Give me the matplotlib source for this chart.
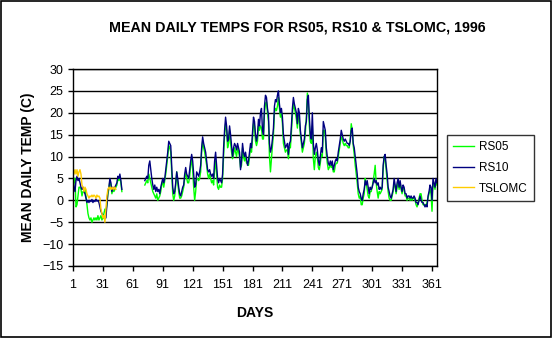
import numpy as np
import matplotlib
matplotlib.use("Agg")
import matplotlib.pyplot as plt
from matplotlib.patches import Rectangle

plt.rcParams['font.family'] = ['Liberation Sans', 'DejaVu Sans']

# mean daily temperatures (C), 1996; no logger data for days 51-72
days = np.arange(1, 367)
gap_days = (51, 72)

rs05_early = [  # days 1-50
    6, 4, 5, -1.5, -1, 1, 3, 3, 2.5, 1,
    2, 2, 2.5, 1, -1, -3, -4, -4.5, -4, -5,
    -4.5, -4, -4.5, -4, -4.5, -3.5, -4.5, -4, -3.5, -4.5,
    -4, -3, -2, -2.5, -1, 1.5, 2.5, 4.5, 3.5, 1.5,
    2.5, 2, 2.5, 3, 3.5, 5, 4.5, 5.5, 4, 2]
rs05_late = [  # days 73-366
    3.5, 4, 4.5, 4, 6, 5, 4, 3, 2, 1.5,
    1, 0.5, 1.5, 0, 0.5, 1, 2, 3.5, 4.5, 3,
    4.5, 6, 8, 10, 12.5, 12, 11, 6, 1.5, 0,
    1, 3.5, 6.5, 4, 2, 0.5, 0.5, 1, 2, 3,
    5, 6.5, 5, 4, 4, 5.5, 8, 9.5, 7, 3,
    0, 2, 5, 5, 4.5, 5, 6.5, 11, 13.5, 12,
    11, 9.5, 8, 6, 5, 6, 5, 4,
    4.5, 3.5, 7, 9, 6, 3, 2.5, 3.5, 3, 3,
    5, 10, 15, 17.5, 16, 12, 13, 16, 13, 11,
    9.5, 10.5, 12, 11, 10, 12, 11, 10, 7.5, 8,
    12, 10, 9, 10, 8.5, 8.5, 8, 10, 12, 11,
    14, 17.5, 17, 13.5, 12.5, 13.5, 17, 16, 17, 16.5,
    14, 14, 20, 22, 22.5, 20, 18, 10, 6.5, 9.5,
    12.5, 15, 20, 21, 20.5, 21.5, 23.5, 21, 19, 20,
    17.5, 13, 12, 11, 11.5, 11.5, 9.5, 12, 12, 15.5,
    19.5, 22, 21, 20, 18.5, 16.5, 19.5, 18, 15, 13,
    11, 12, 13, 15.5, 19, 24.5, 22, 17, 13.5, 13,
    17, 9.5, 7, 10, 11, 10, 7.5, 7, 8.5, 10.5,
    10, 16, 16, 14.5, 10.5, 8.5, 7, 7.5, 8, 7.5,
    8, 6.5, 6.5, 8, 8.5, 8.5, 10, 11.5, 13, 14.5,
    14, 13, 12.5, 13, 12.5, 12.5, 12, 12, 14, 17.5,
    16, 12.5, 10.5, 8, 6, 4, 1.5, 0.5, 1, -1,
    -1, 0.5, 1.5, 5, 4, 2.5, 1, 0.5, 2, 2,
    3, 4.5, 6, 8, 4, 2, 0.5, 2, 1.5, 2,
    2.5, 7, 10, 9.5, 7, 4.5, 2, 0.5, 0, 0,
    1, 2, 4, 3, 1.5, 3, 4.5, 2.5, 4, 2.5,
    1.5, 3, 2.5, 1, 1, 0, 0.5, 0.5, 0, 0.5,
    0, 0.5, 0.5, 0, -1, -1.5, -0.5, 0.5, 1.5, 1.5,
    0, -1, -1, -1, -1, -0.5, 0.5, 1.5, 2.5, 1.5,
    -2.5, 4, 3.5, 2.5, 4.5, 3.5]

rs10_early = [  # days 1-50
    5, 3, 2, 4.5, 5.5, 4.5, 5, 4, 3, 2.5,
    3, 2, 1.5, 0.5, -0.5, 0, -0.5, 0, -0.3, 0.2,
    -0.5, 0, -0.3, 0.3, -0.2, 0, -0.5, -1.5, -2.5, -3,
    -3.5, -4, -4.2, -4, -1, 2, 3, 5, 4, 2,
    3, 2.5, 3, 3.5, 4, 5.5, 5, 6, 4.5, 2.5]
rs10_late = [  # days 73-366
    4.5, 5, 5.5, 5, 8, 9, 7, 5, 3.5, 2.5,
    3.5, 2, 3, 2, 2.5, 1.5, 3, 4, 5, 4,
    5, 7, 9, 11, 13.5, 13, 12.5, 8, 3, 1.5,
    2, 4, 6.5, 5, 3, 1.5, 1, 2, 3, 3.5,
    6, 7.5, 6, 5.5, 5, 7, 9, 10.5, 9, 6,
    3, 3.5, 6.5, 6, 5.5, 6.5, 8, 12, 14.5, 13,
    12, 11, 9, 7, 6.5, 7, 6, 5.5,
    6, 5, 9, 11, 8, 5, 4, 5, 4.5, 4,
    6, 12, 16, 19, 17, 13.5, 14, 17, 15, 12.5,
    10, 12, 13, 12.5, 11.5, 13, 12, 11, 7, 9,
    13, 11, 10, 11, 9.5, 8, 9, 11, 13, 12,
    15.5, 19, 18, 15, 13.5, 15, 18.5, 17, 20, 21,
    16, 15, 21.5, 24, 23.5, 21, 19.5, 13, 11, 12,
    14, 16.5, 21.5, 23, 22.5, 24, 25, 22, 20, 21,
    19, 15, 13.5, 12, 12.5, 13, 10.5, 13, 13.5, 17,
    21, 23.5, 22, 21, 20, 17.5, 21, 20, 16, 14,
    12, 13, 14, 17, 18, 23, 24, 19, 15, 14,
    20, 13, 10.5, 12, 13, 11.5, 9, 8, 10, 12,
    11, 18, 17, 16, 12, 10, 8.5, 8, 9, 8,
    9, 7, 8, 9, 9.5, 9, 11, 12.5, 14, 16,
    15, 14, 13.5, 14, 13.5, 13, 13, 12.5, 13.5, 16,
    16.5, 13, 12, 10, 8, 6, 3, 2, 1.5, 0.5,
    0, 1.5, 2.5, 4.5, 3.5, 4.5, 3, 1.5, 3, 2.5,
    3, 4, 5, 4, 4.5, 3.5, 4, 2.5, 3, 2.5,
    3, 8, 10, 10.5, 8, 6, 3, 2, 1, 0.5,
    1.5, 2.5, 5, 3.5, 2, 4, 5, 3, 4.5, 3,
    2, 3.5, 3, 1.5, 1.5, 0.5, 1, 1, 0.5, 1,
    0.5, 0.5, 1, 0.5, -0.5, -0.5, -1, 0, 1, 0,
    -0.5, -0.5, -1, -1.5, -1, -1.5, 1, 2, 3.5, 3,
    0, 5, 4, 3, 5, 4]

tslomc = [  # days 1-44
    7, 6, 7, 6, 7, 5.5, 6.5, 7, 6, 3.5,
    3, 2, 3, 2.5, 1.5, 1, 0.5, 1, 0.8, 1.2,
    0.8, 1.2, 1, 0.5, 1.2, 0.8, 1, 0.5, -2, -3,
    -4, -3.5, -5, -2, 1, 2.5, 3, 2.5, 3, 2.5,
    3, 2.5, 3, 2.5]


def full_year(early, late):
    gap = [np.nan] * (gap_days[1] - gap_days[0] + 1)
    return np.array(early + gap + late, dtype=float)


rs05 = full_year(rs05_early, rs05_late)
rs10 = full_year(rs10_early, rs10_late)
tsl = np.full(len(days), np.nan)
tsl[:len(tslomc)] = tslomc

W, H = 552, 338
fig = plt.figure(figsize=(W / 100, H / 100), dpi=100)
fig.patches.append(Rectangle((0.001, 0.002), 0.997, 0.996, transform=fig.transFigure,
                             fill=False, edgecolor='black', linewidth=1.2))

ax = fig.add_axes([73 / W, 1 - 266 / H, 364 / W, 197 / H])
ax.plot(days, rs05, color='#00FF00', lw=1.0, label='RS05')
ax.plot(days, rs10, color='#000080', lw=1.0, label='RS10')
ax.plot(days, tsl, color='#FFCC00', lw=1.0, label='TSLOMC')

ax.set_xlim(1, 366)
ax.set_ylim(-15, 30)
ax.set_yticks(np.arange(-15, 31, 5))
ax.set_xticks(np.arange(1, 362, 30))
ax.yaxis.grid(True, color='black', lw=1.0)
ax.set_axisbelow(True)
for s in ax.spines.values():
    s.set_color('black')
    s.set_linewidth(1.0)
ax.tick_params(direction='out', length=3.5, width=1, labelsize=9, colors='black')
ax.tick_params(axis='x', pad=5.5)
ax.tick_params(axis='y', pad=3.5)

fig.text(297 / W, 1 - 28 / H, 'MEAN DAILY TEMPS FOR RS05, RS10 & TSLOMC, 1996',
         fontsize=10.3, fontweight='bold', ha='center', va='center')
ax.set_xlabel('DAYS', fontsize=10, fontweight='bold', va='center')
ax.xaxis.set_label_coords(0.5, (266 - 313) / 197)
ax.set_ylabel('MEAN DAILY TEMP (C)', fontsize=10, fontweight='bold', va='center')
ax.yaxis.set_label_coords((28 - 73) / 364, 0.5)

leg = ax.legend(loc='upper left', bbox_to_anchor=(447 / W, 1 - 135 / H),
                bbox_transform=fig.transFigure, frameon=True, fancybox=False,
                edgecolor='black', fontsize=8.5, handlelength=1.8, handletextpad=0.4,
                labelspacing=0.75, borderpad=0.5, borderaxespad=0)
leg.get_frame().set_linewidth(1.0)

fig.savefig('out.png', dpi=100)
